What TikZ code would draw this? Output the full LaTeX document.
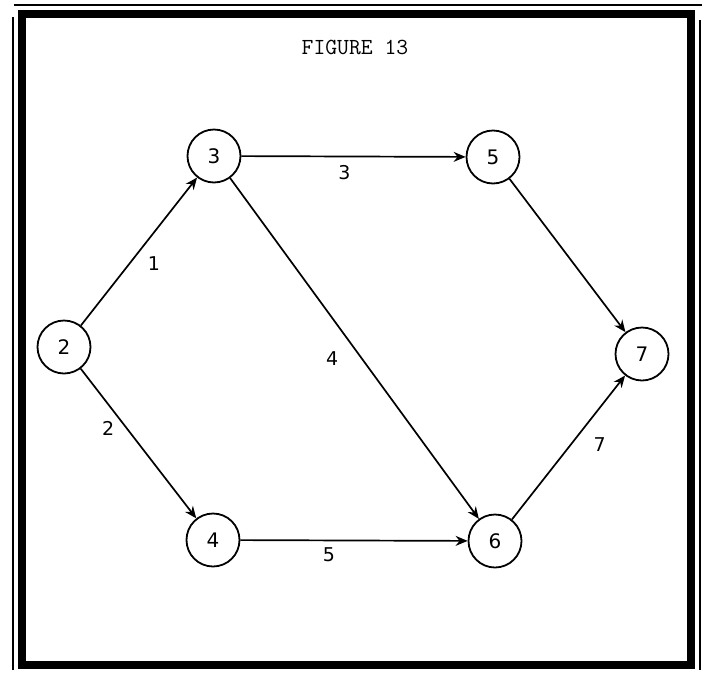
\documentclass[tikz,border=0pt]{standalone}
\usepackage{fontspec}
\setmainfont{DejaVu Sans}
\usetikzlibrary{arrows.meta, positioning}

\begin{document}
\begin{tikzpicture}[x=1pt, y=-1pt, ->, >={Stealth[length=12pt, width=10pt, inset=4pt]}, line width=1.7pt,
  event/.style={circle, draw, line width=1.8pt, minimum size=53pt, inner sep=0pt, font=\fontsize{20}{22}\selectfont},
  lbl/.style={font=\fontsize{19}{21}\selectfont, inner sep=2pt},
  frame/.style={-, black}]

  \useasboundingbox (0,0) rectangle (704,675);

  % frame of the scanned page
  \draw[frame, line width=2.5pt] (14,5) -- (702,5);
  \draw[frame, line width=2pt] (13,17) -- (13,670);
  \draw[frame, line width=2pt] (700,20) -- (700,670);
  \draw[frame, line width=8pt] (22,14) rectangle (691,665);

  \node[font=\ttfamily\fontsize{23}{25}\selectfont] (title) at (355,47) {FIGURE 13};

  \node[event] (N2) at (64,347)  {2};
  \node[event] (N3) at (214,156) {3};
  \node[event] (N5) at (493,157) {5};
  \node[event] (N4) at (213,540) {4};
  \node[event] (N6) at (495,541) {6};
  \node[event] (N7) at (642,354) {7};

  \path (N2) edge node[lbl, pos=.5, below right=2pt and 6pt] {1} (N3)
             edge node[lbl, pos=.4, left=10pt]             {2} (N4)
        (N3) edge node[lbl, pos=.46, below=6pt]            {3} (N5)
             edge node[lbl, pos=.53, left=21pt]            {4} (N6)
        (N4) edge node[lbl, pos=.39, below=4pt]            {5} (N6)
        (N5) edge (N7)
        (N6) edge node[lbl, pos=.52, right=20pt]           {7} (N7);

\end{tikzpicture}
\end{document}
